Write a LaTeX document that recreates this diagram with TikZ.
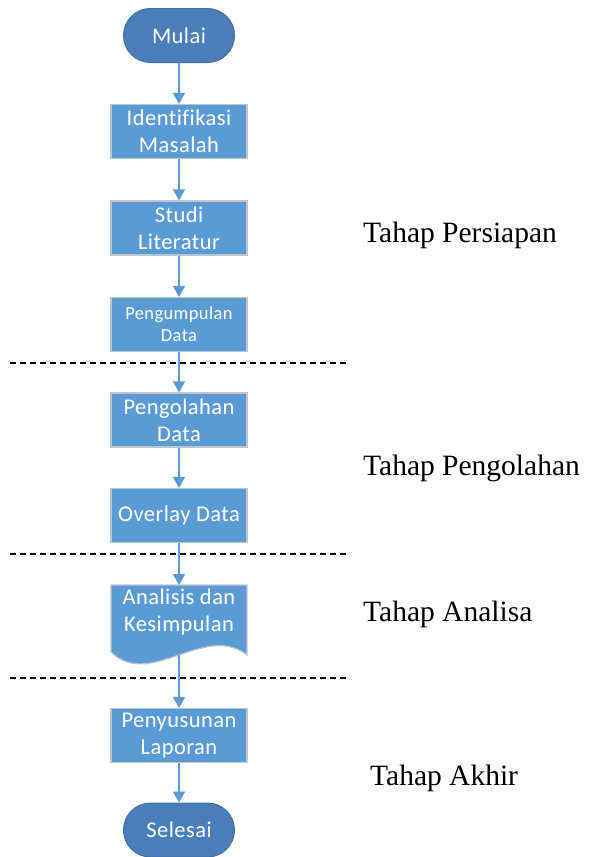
\documentclass[tikz,border=0pt]{standalone}
\usepackage{fontspec}
\setmainfont{Liberation Serif}
\newfontfamily\boxfont[Ligatures=NoCommon,LetterSpace=2]{Carlito}
\usetikzlibrary{arrows.meta}
\definecolor{boxblue}{HTML}{5B9BD5}
\definecolor{termblue}{HTML}{4A7EBB}
\definecolor{termedge}{HTML}{41719C}
\definecolor{boxedge}{HTML}{BCC6D0}
\tikzset{
  box/.style={rectangle, fill=boxblue, draw=boxedge, line width=1.2pt,
    minimum width=136pt, minimum height=54pt, inner sep=0pt,
    text=white, align=center, font=\boxfont\fontsize{22.5}{27}\selectfont},
  smallbox/.style={box, font=\boxfont\fontsize{18.5}{22}\selectfont},
  term/.style={rectangle, rounded corners=27pt, fill=termblue, draw=termedge,
    line width=1pt, minimum width=111pt, minimum height=54pt, inner sep=0pt,
    text=white, font=\boxfont\fontsize{22.5}{27}\selectfont},
  arr/.style={draw=boxblue, line width=2pt, -{Triangle[width=12pt,length=11pt]}},
  sep/.style={draw=black, line width=1.2pt, dash pattern=on 6pt off 4pt},
  phase/.style={anchor=base west, inner sep=0pt, font=\fontsize{29.5}{32}\selectfont},
}
\begin{document}
\begin{tikzpicture}[x=1pt,y=-1pt]
\useasboundingbox (0,0) rectangle (589,857);
% nodes
\node[term] (mulai) at (179,35.5) {Mulai};
\node[box] (ident) at (179,131.5) {Identifikasi\\Masalah};
\node[box] (studi) at (179,228) {Studi\\Literatur};
\node[smallbox] (kumpul) at (179,324.5) {Pengumpulan\\Data};
\node[box] (olah) at (179,420) {Pengolahan\\Data};
\node[box] (overlay) at (179,515.5) {Overlay Data};
% document shape
\path[fill=boxblue, draw=boxedge, line width=1.2pt]
  (111,585) -- (247,585) -- (247,655)
  .. controls (205,622) and (150,690) .. (111,652) -- cycle;
\node[font=\boxfont\fontsize{22.5}{27}\selectfont, text=white, align=center, inner sep=0pt]
  (anal) at (179,612) {Analisis dan\\Kesimpulan};
\coordinate (analtop) at (179,585);
\coordinate (analbot) at (179,655);
\node[box] (susun) at (179,735.5) {Penyusunan\\Laporan};
\node[term] (selesai) at (179,830) {Selesai};
% separators
\coordinate (s1a) at (10,363); \coordinate (s1b) at (348,363);
\coordinate (s2a) at (10,554); \coordinate (s2b) at (348,554);
\coordinate (s3a) at (10,678); \coordinate (s3b) at (348,678);
\draw[sep] (s1a) -- (s1b);
\draw[sep] (s2a) -- (s2b);
\draw[sep] (s3a) -- (s3b);
% connectors
\draw[arr] (mulai) -- (ident);
\draw[arr] (ident) -- (studi);
\draw[arr] (studi) -- (kumpul);
\draw[arr] (kumpul) -- (olah);
\draw[arr] (olah) -- (overlay);
\draw[arr] (overlay.south) -- (analtop);
\draw[arr] (analbot) -- (susun);
\draw[arr] (susun) -- (selesai);
% phase labels
\node[phase] (p1) at (363,242) {Tahap Persiapan};
\node[phase] (p2) at (363,475) {Tahap Pengolahan};
\node[phase] (p3) at (363,621) {Tahap Analisa};
\node[phase] (p4) at (370,785) {Tahap Akhir};
\end{tikzpicture}
\end{document}
